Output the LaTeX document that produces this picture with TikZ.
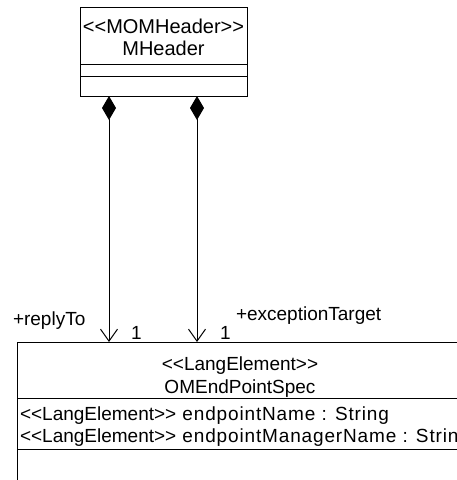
\documentclass[tikz,border=0pt]{standalone}
\usepackage{fontspec}
\setmainfont{Liberation Sans}
\usetikzlibrary{arrows.meta}
\newcommand{\lsp}{\addfontfeatures{LetterSpace=4.5}}
\begin{document}
\begin{tikzpicture}[x=1pt,y=-1pt,
  umlbox/.style={draw,line width=1pt,rectangle,inner sep=0pt,outer sep=0pt},
  lbl/.style={inner sep=0pt,outer sep=0pt,anchor=base west,font=\fontsize{19}{22}\selectfont},
  ctr/.style={inner sep=0pt,outer sep=0pt,anchor=base,font=\fontsize{19}{22}\selectfont},
  assoc/.style={line width=1pt,{Diamond[length=24pt,width=14pt]}-{Straight Barb[length=12pt,width=17pt,line width=1pt]}}]
\useasboundingbox (0,0) rectangle (457,480);
\clip (0,0) rectangle (457,480);
% top class
\node[umlbox,minimum width=167pt,minimum height=89pt] (mh) at (163.5,51.5) {};
\draw[line width=1pt] (80,64) -- (247,64);
\draw[line width=1pt] (80,76) -- (247,76);
\node[ctr,font=\fontsize{20}{22}\selectfont] (mhs) at (163.5,33) {<{}<MOMHeader>{}>};
\node[ctr,font=\fontsize{20}{22}\selectfont] (mhn) at (163.5,55) {MHeader};
% bottom class
\node[umlbox,minimum width=446pt,minimum height=180pt] (om) at (240,432) {};
\draw[line width=1pt] (17,398) -- (463,398);
\draw[line width=1pt] (17,449) -- (463,449);
\node[ctr] (oms) at (240,370) {<{}<LangElement>{}>};
\node[ctr] (omn) at (240,393) {OMEndPointSpec};
\node[lbl] (a1) at (20,420) {<{}<LangElement>{}>{\lsp{} endpointName : String}};
\node[lbl] (a2) at (20,442) {<{}<LangElement>{}>{\lsp{} endpointManagerName : String}};
% associations
\coordinate (s1) at (109,96);
\coordinate (e1) at (109,342);
\coordinate (s2) at (197,96);
\coordinate (e2) at (197,342);
\draw[assoc] (s1) -- (e1);
\draw[assoc] (s2) -- (e2);
\node[lbl] (r1) at (13,325) {+replyTo};
\node[lbl] (m1) at (131,339) {1};
\node[lbl] (m2) at (220,339) {1};
\node[lbl] (r2) at (236,320) {+exceptionTarget};
\end{tikzpicture}
\end{document}
